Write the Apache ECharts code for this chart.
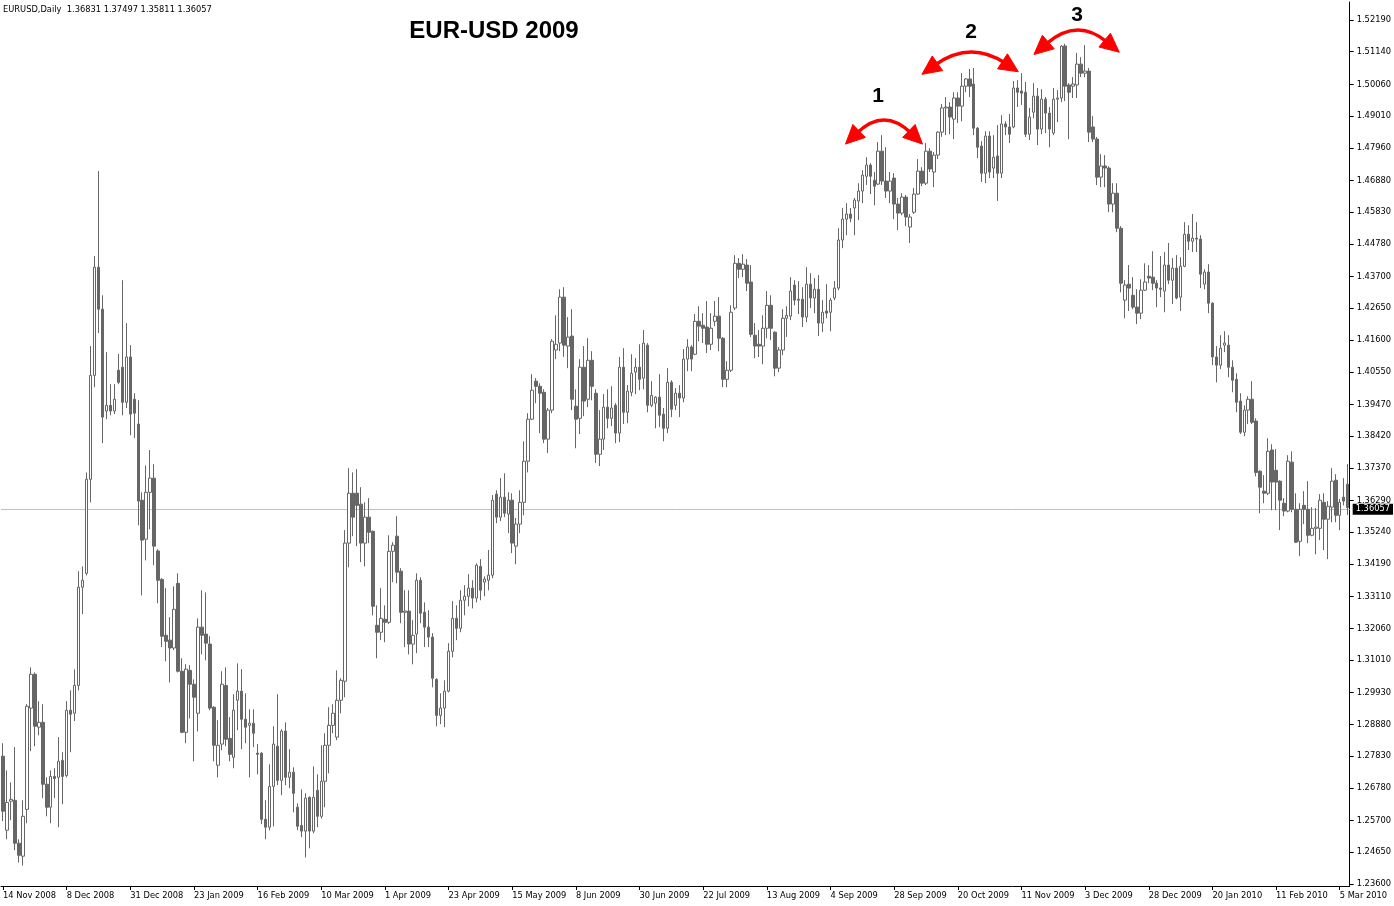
<!DOCTYPE html>
<html><head><meta charset="utf-8">
<script src="https://cdn.jsdelivr.net/npm/echarts@6/dist/echarts.min.js"></script>
<style>html,body{margin:0;padding:0;background:#fff}#c{width:1394px;height:906px}</style>
</head><body><div id="c"></div>
<script>
const symbolName = 'EURUSD,Daily';
const chartTitle = 'EUR-USD 2009';
const xTickLabels = ['14 Nov 2008','8 Dec 2008','31 Dec 2008','23 Jan 2009','16 Feb 2009','10 Mar 2009','1 Apr 2009','23 Apr 2009','15 May 2009','8 Jun 2009','30 Jun 2009','22 Jul 2009','13 Aug 2009','4 Sep 2009','28 Sep 2009','20 Oct 2009','11 Nov 2009','3 Dec 2009','28 Dec 2009','20 Jan 2010','11 Feb 2010','5 Mar 2010'];
const yTickValues = [1.52190,1.51140,1.50060,1.49010,1.47960,1.46880,1.45830,1.44780,1.43700,1.42650,1.41600,1.40550,1.39470,1.38420,1.37370,1.36290,1.35240,1.34190,1.33110,1.32060,1.31010,1.29930,1.28880,1.27830,1.26780,1.25700,1.24650,1.23600];

const open = [
1.2783,1.2538,1.2634,1.2637,1.2495,1.2452,1.2607,1.2942,1.3054,1.2879,1.2895,1.2690,1.2614,1.2716,1.2713,1.2769,1.2719,1.2935,1.2925,1.3017,
1.3342,1.3388,1.3699,1.4043,1.4401,1.4262,1.3925,1.3944,1.3925,1.4060,1.4070,1.3954,1.4104,1.3964,1.3882,1.3630,1.3501,1.3656,1.3703,1.3462,
1.3368,1.3183,1.3167,1.3141,1.3355,1.3064,1.2862,1.3067,1.3021,1.2925,1.3210,1.3187,1.3154,1.2945,1.2753,1.2823,1.3017,1.2842,1.2779,1.2968,
1.2998,1.2905,1.2885,1.2892,1.2793,1.2793,1.2574,1.2548,1.2683,1.2816,1.2703,1.2866,1.2713,1.2730,1.2614,1.2554,1.2535,1.2647,1.2535,1.2670,
1.2584,1.2700,1.2819,1.2885,1.2846,1.2968,1.3031,1.3488,1.3653,1.3653,1.3617,1.3488,1.3574,1.3527,1.3216,1.3193,1.3236,1.3226,1.3461,1.3511,
1.3395,1.3259,1.3263,1.3154,1.3187,1.3365,1.3259,1.3210,1.3177,1.3037,1.2918,1.2942,1.2998,1.3130,1.3239,1.3206,1.3299,1.3312,1.3339,1.3306,
1.3411,1.3359,1.3365,1.3382,1.3650,1.3574,1.3640,1.3584,1.3630,1.3478,1.3551,1.3623,1.3759,1.3898,1.4024,1.4007,1.3987,1.3832,1.3928,1.4127,
1.4150,1.4302,1.4140,1.4173,1.3941,1.3901,1.4070,1.3964,1.4093,1.3984,1.3782,1.3832,1.3938,1.3901,1.3944,1.3852,1.4070,1.3921,1.3987,1.4054,
1.4070,1.4034,1.4143,1.3944,1.3951,1.3971,1.3915,1.3868,1.4020,1.3944,1.3984,1.3968,1.4097,1.4137,1.4113,1.4222,1.4209,1.4203,1.4146,1.4222,
1.4239,1.4166,1.4030,1.4060,1.4266,1.4414,1.4394,1.4408,1.4352,1.4176,1.4146,1.4140,1.4199,1.4275,1.4186,1.4067,1.4127,1.4232,1.4239,1.4342,
1.4295,1.4295,1.4236,1.4345,1.4299,1.4328,1.4216,1.4256,1.4252,1.4299,1.4332,1.4491,1.4560,1.4577,1.4597,1.4620,1.4653,1.4702,1.4739,1.4689,
1.4676,1.4785,1.4686,1.4653,1.4696,1.4610,1.4580,1.4633,1.4534,1.4583,1.4643,1.4719,1.4679,1.4785,1.4716,1.4772,1.4848,1.4928,1.4931,1.4891,
1.4961,1.4934,1.5000,1.5024,1.5007,1.4861,1.4802,1.4712,1.4835,1.4729,1.4769,1.4712,1.4875,1.4865,1.4865,1.4994,1.4984,1.4980,1.4841,1.4914,
1.4967,1.4858,1.4957,1.4911,1.4845,1.4957,1.4961,1.5133,1.5004,1.5000,1.5004,1.5073,1.5043,1.5050,1.4865,1.4825,1.4699,1.4736,1.4729,1.4610,
1.4646,1.4530,1.4292,1.4345,1.4308,1.4269,1.4249,1.4325,1.4371,1.4368,1.4348,1.4332,1.4322,1.4408,1.4358,1.4398,1.4302,1.4404,1.4510,1.4487,
1.4497,1.4494,1.4345,1.4385,1.4282,1.4104,1.4077,1.4143,1.4143,1.4070,1.4030,1.3958,1.3855,1.3928,1.3964,1.3892,1.3726,1.3660,1.3653,1.3796,
1.3729,1.3693,1.3620,1.3594,1.3756,1.3600,1.3494,1.3613,1.3600,1.3514,1.3537,1.3537,1.3623,1.3567,1.3607,1.3696,1.3580,1.3640,1.36831];

const high = [
1.2826,1.2736,1.2696,1.2813,1.2508,1.2637,1.2955,1.3077,1.3060,1.2965,1.2955,1.2713,1.2736,1.2743,1.2846,1.2796,1.2965,1.3001,1.3070,1.3395,
1.3411,1.3722,1.4140,1.4438,1.4719,1.4308,1.4120,1.4014,1.4014,1.4114,1.4358,1.4216,1.4143,1.3984,1.3961,1.3656,1.3745,1.3796,1.3749,1.3468,
1.3372,1.3339,1.3243,1.3345,1.3388,1.3107,1.3087,1.3084,1.3037,1.3239,1.3332,1.3325,1.3180,1.2948,1.2902,1.3064,1.3077,1.2912,1.2988,1.3090,
1.3071,1.2991,1.2938,1.2938,1.2823,1.2796,1.2637,1.2756,1.2882,1.2988,1.2872,1.2895,1.2806,1.2746,1.2627,1.2673,1.2660,1.2650,1.2749,1.2723,
1.2819,1.2859,1.2945,1.2955,1.3067,1.3041,1.3531,1.3736,1.3722,1.3733,1.3673,1.3623,1.3637,1.3530,1.3282,1.3339,1.3282,1.3514,1.3491,1.3577,
1.3405,1.3332,1.3332,1.3233,1.3388,1.3375,1.3292,1.3266,1.3190,1.3041,1.2991,1.3034,1.3157,1.3296,1.3282,1.3332,1.3349,1.3385,1.3365,1.3421,
1.3435,1.3378,1.3465,1.3647,1.3663,1.3703,1.3719,1.3656,1.3653,1.3571,1.3663,1.3825,1.3918,1.4047,1.4034,1.4017,1.3997,1.3935,1.4163,1.4242,
1.4328,1.4335,1.4236,1.4262,1.3997,1.4097,1.4140,1.4166,1.4123,1.3997,1.3928,1.3981,1.3997,1.4007,1.3951,1.4104,1.4133,1.4011,1.4113,1.4100,
1.4146,1.4193,1.4150,1.4024,1.3974,1.4047,1.3935,1.4067,1.4027,1.4001,1.4011,1.4130,1.4163,1.4143,1.4246,1.4272,1.4249,1.4289,1.4249,1.4289,
1.4302,1.4170,1.4090,1.4275,1.4441,1.4431,1.4444,1.4428,1.4408,1.4216,1.4193,1.4242,1.4322,1.4308,1.4189,1.4137,1.4262,1.4272,1.4368,1.4358,
1.4355,1.4335,1.4401,1.4381,1.4365,1.4375,1.4292,1.4345,1.4299,1.4355,1.4530,1.4597,1.4613,1.4597,1.4630,1.4679,1.4722,1.4765,1.4745,1.4716,
1.4815,1.4838,1.4798,1.4716,1.4712,1.4630,1.4646,1.4640,1.4577,1.4663,1.4759,1.4732,1.4812,1.4795,1.4782,1.4851,1.4941,1.4964,1.4947,1.4980,
1.4980,1.5043,1.5027,1.5057,1.5060,1.4865,1.4818,1.4851,1.4851,1.4838,1.4871,1.4904,1.4884,1.4908,1.5017,1.5020,1.5043,1.5014,1.4928,1.5010,
1.4994,1.4990,1.4964,1.4931,1.4994,1.4987,1.5136,1.5140,1.5010,1.5030,1.5110,1.5096,1.5136,1.5060,1.4901,1.4832,1.4775,1.4772,1.4735,1.4679,
1.4679,1.4537,1.4358,1.4408,1.4368,1.4328,1.4361,1.4414,1.4408,1.4454,1.4358,1.4438,1.4451,1.4481,1.4431,1.4441,1.4434,1.4550,1.4540,1.4577,
1.4550,1.4507,1.4394,1.4411,1.4285,1.4140,1.4176,1.4189,1.4176,1.4093,1.4050,1.3984,1.3944,1.3974,1.4024,1.3901,1.3729,1.3713,1.3835,1.3815,
1.3799,1.3696,1.3637,1.3779,1.3792,1.3653,1.3620,1.3660,1.3693,1.3607,1.3604,1.3650,1.3653,1.3627,1.3736,1.3716,1.3634,1.3703,1.37497];

const low = [
1.2568,1.2508,1.2571,1.2472,1.2431,1.2421,1.2561,1.2800,1.2816,1.2852,1.2644,1.2584,1.2561,1.2644,1.2548,1.2624,1.2713,1.2796,1.2899,1.3001,
1.3253,1.3381,1.3623,1.4004,1.4183,1.3819,1.3898,1.3911,1.3915,1.4014,1.3911,1.3935,1.3845,1.3836,1.3547,1.3315,1.3431,1.3534,1.3415,1.3289,
1.3144,1.3097,1.3027,1.3134,1.3060,1.2859,1.2826,1.2908,1.2766,1.2865,1.3120,1.3100,1.2935,1.2766,1.2713,1.2803,1.2816,1.2766,1.2743,1.2869,
1.2806,1.2826,1.2713,1.2813,1.2723,1.2558,1.2508,1.2538,1.2551,1.2687,1.2654,1.2687,1.2677,1.2597,1.2538,1.2515,1.2448,1.2478,1.2528,1.2548,
1.2577,1.2614,1.2726,1.2859,1.2836,1.2925,1.2978,1.3408,1.3511,1.3478,1.3425,1.3411,1.3488,1.3249,1.3107,1.3167,1.3160,1.3220,1.3359,1.3355,
1.3223,1.3144,1.3120,1.3087,1.3124,1.3223,1.3144,1.3144,1.3011,1.2882,1.2889,1.2879,1.2994,1.3110,1.3167,1.3193,1.3249,1.3279,1.3272,1.3292,
1.3299,1.3312,1.3332,1.3372,1.3554,1.3561,1.3574,1.3521,1.3455,1.3418,1.3521,1.3580,1.3722,1.3895,1.3951,1.3852,1.3819,1.3786,1.3918,1.4097,
1.4123,1.4104,1.4067,1.3928,1.3802,1.3849,1.3908,1.3938,1.3961,1.3753,1.3743,1.3796,1.3868,1.3875,1.3819,1.3822,1.3882,1.3885,1.3974,1.3981,
1.3994,1.3997,1.3921,1.3938,1.3868,1.3872,1.3825,1.3852,1.3905,1.3928,1.3905,1.3954,1.4057,1.4057,1.4110,1.4156,1.4150,1.4117,1.4127,1.4206,
1.4123,1.4004,1.4004,1.4054,1.4259,1.4365,1.4368,1.4322,1.4170,1.4100,1.4104,1.4080,1.4166,1.4160,1.4040,1.4054,1.4110,1.4170,1.4226,1.4275,
1.4246,1.4203,1.4219,1.4266,1.4249,1.4173,1.4186,1.4232,1.4189,1.4292,1.4325,1.4464,1.4507,1.4550,1.4507,1.4557,1.4613,1.4673,1.4643,1.4606,
1.4673,1.4673,1.4630,1.4613,1.4560,1.4524,1.4573,1.4537,1.4481,1.4577,1.4640,1.4669,1.4673,1.4716,1.4666,1.4759,1.4832,1.4838,1.4841,1.4825,
1.4878,1.4884,1.4980,1.4964,1.4838,1.4762,1.4683,1.4679,1.4696,1.4696,1.4620,1.4696,1.4838,1.4812,1.4861,1.4931,1.4938,1.4832,1.4822,1.4894,
1.4805,1.4841,1.4845,1.4798,1.4838,1.4881,1.4947,1.4951,1.4825,1.4961,1.4961,1.5030,1.5030,1.4815,1.4815,1.4673,1.4666,1.4666,1.4583,1.4583,
1.4517,1.4318,1.4232,1.4256,1.4262,1.4213,1.4229,1.4322,1.4348,1.4325,1.4269,1.4302,1.4252,1.4345,1.4279,1.4295,1.4256,1.4401,1.4458,1.4451,
1.4451,1.4332,1.4328,1.4249,1.4077,1.4020,1.4064,1.4120,1.4037,1.3987,1.3921,1.3849,1.3842,1.3882,1.3882,1.3709,1.3587,1.3620,1.3647,1.3597,
1.3597,1.3531,1.3577,1.3590,1.3590,1.3488,1.3445,1.3551,1.3488,1.3511,1.3451,1.3498,1.3465,1.3435,1.3557,1.3557,1.3531,1.3613,1.35811];

const close = [
1.2601,1.2630,1.2640,1.2495,1.2455,1.2584,1.2948,1.3054,1.2882,1.2895,1.2690,1.2614,1.2716,1.2709,1.2766,1.2716,1.2935,1.2922,1.3017,1.3342,
1.3365,1.3699,1.4043,1.4401,1.4262,1.3905,1.3944,1.3925,1.3964,1.4020,1.3954,1.4104,1.3915,1.3918,1.3627,1.3498,1.3656,1.3703,1.3478,1.3365,
1.3180,1.3163,1.3141,1.3269,1.3064,1.2862,1.3071,1.3021,1.2978,1.3210,1.3183,1.3157,1.2942,1.2819,1.2819,1.3021,1.2839,1.2789,1.2935,1.2998,
1.2905,1.2879,1.2892,1.2859,1.2789,1.2574,1.2548,1.2683,1.2823,1.2703,1.2866,1.2713,1.2730,1.2660,1.2551,1.2535,1.2644,1.2535,1.2647,1.2584,
1.2700,1.2819,1.2885,1.2925,1.2968,1.3034,1.3488,1.3653,1.3574,1.3613,1.3488,1.3574,1.3524,1.3279,1.3193,1.3239,1.3226,1.3461,1.3481,1.3392,
1.3259,1.3263,1.3154,1.3183,1.3365,1.3256,1.3210,1.3177,1.3041,1.2918,1.2942,1.2998,1.3130,1.3239,1.3206,1.3299,1.3312,1.3339,1.3306,1.3415,
1.3332,1.3369,1.3382,1.3630,1.3574,1.3640,1.3587,1.3630,1.3488,1.3551,1.3623,1.3759,1.3898,1.3994,1.4007,1.3984,1.3832,1.3928,1.4156,1.4146,
1.4302,1.4143,1.4170,1.3964,1.3898,1.4070,1.3958,1.4093,1.4007,1.3782,1.3832,1.3938,1.3901,1.3935,1.3852,1.4070,1.3921,1.3991,1.4050,1.4070,
1.4030,1.4150,1.3944,1.3977,1.3971,1.3911,1.3868,1.4020,1.3931,1.3984,1.3968,1.4097,1.4137,1.4097,1.4222,1.4206,1.4199,1.4146,1.4199,1.4239,
1.4166,1.4030,1.4060,1.4252,1.4414,1.4394,1.4411,1.4348,1.4179,1.4140,1.4140,1.4199,1.4275,1.4199,1.4067,1.4127,1.4232,1.4242,1.4322,1.4292,
1.4292,1.4236,1.4345,1.4299,1.4328,1.4216,1.4252,1.4249,1.4292,1.4332,1.4491,1.4560,1.4577,1.4563,1.4623,1.4653,1.4706,1.4739,1.4702,1.4669,
1.4785,1.4686,1.4653,1.4686,1.4610,1.4580,1.4633,1.4567,1.4567,1.4643,1.4719,1.4679,1.4785,1.4726,1.4772,1.4848,1.4928,1.4931,1.4898,1.4961,
1.4934,1.5000,1.5024,1.5000,1.4861,1.4798,1.4712,1.4835,1.4716,1.4765,1.4712,1.4875,1.4865,1.4841,1.4994,1.4980,1.4977,1.4841,1.4898,1.4967,
1.4858,1.4957,1.4911,1.4858,1.4957,1.4961,1.5133,1.5000,1.4980,1.5007,1.5073,1.5043,1.5050,1.4848,1.4825,1.4699,1.4736,1.4729,1.4610,1.4646,
1.4530,1.4348,1.4342,1.4332,1.4269,1.4249,1.4325,1.4352,1.4365,1.4348,1.4332,1.4328,1.4408,1.4358,1.4398,1.4299,1.4404,1.4510,1.4487,1.4497,
1.4494,1.4378,1.4385,1.4282,1.4104,1.4077,1.4133,1.4150,1.4070,1.4027,1.3954,1.3855,1.3928,1.3964,1.3888,1.3722,1.3673,1.3653,1.3792,1.3690,
1.3690,1.3630,1.3594,1.3759,1.3600,1.3491,1.3600,1.3600,1.3514,1.3537,1.3541,1.3630,1.3567,1.3610,1.3693,1.3580,1.3623,1.3627,1.36057];

const N = close.length;
const last = N - 1;
const lastPrice = close[last];
const categories = close.map((_, i) => String(i));
const candles = close.map((c, i) => [open[i], c, low[i], high[i]]);
const headerText = symbolName + '  ' + open[last].toFixed(5) + ' ' + high[last].toFixed(5) + ' ' + low[last].toFixed(5) + ' ' + close[last].toFixed(5);

const FONT = 'DejaVu Sans';
const SMALL = 8.3;
const RED = '#ff0000';

function curvedArrow(x1, y1, cx, cy, x2, y2) {
  const els = [{
    type: 'bezierCurve', z: 100,
    shape: { x1: x1, y1: y1, x2: x2, y2: y2, cpx1: cx, cpy1: cy },
    style: { stroke: RED, lineWidth: 3.5, fill: null }
  }];
  const head = (px, py) => {
    let dx = px - cx, dy = py - cy;
    const len = Math.hypot(dx, dy); dx /= len; dy /= len;
    const L = 16, W = 18;
    const bx = px - dx * 3, by = py - dy * 3;
    return {
      type: 'polygon', z: 100,
      shape: { points: [[px + dx * L, py + dy * L], [bx - dy * W / 2, by + dx * W / 2], [bx + dy * W / 2, by - dx * W / 2]] },
      style: { fill: RED, stroke: RED, lineWidth: 1 }
    };
  };
  els.push(head(x1, y1), head(x2, y2));
  return els;
}
function bigNumber(t, x, y) {
  return { type: 'text', z: 100, x: x, y: y,
    style: { text: t, fontSize: 21, fontWeight: 'bold', fontFamily: 'Liberation Sans', fill: '#000', align: 'center', verticalAlign: 'middle' } };
}

const chart = echarts.init(document.getElementById('c'), null, { renderer: 'canvas' });
chart.setOption({
  animation: false,
  backgroundColor: '#ffffff',
  grid: { left: -2, top: 2, width: 1354, height: 884, containLabel: false },
  xAxis: {
    type: 'category', data: categories, boundaryGap: true,
    axisLine: { lineStyle: { color: '#000', width: 1 } },
    axisTick: { show: true, interval: 15, alignWithLabel: true, length: 4, lineStyle: { color: '#000' } },
    axisLabel: { interval: 15, align: 'left', margin: 6, fontSize: SMALL, fontFamily: FONT, color: '#000',
      formatter: (v, i) => (xTickLabels[i / 16] || '') },
    splitLine: { show: false }
  },
  yAxis: {
    type: 'value', position: 'right', min: 1.23534, max: 1.52786,
    axisLine: { show: true, lineStyle: { color: '#000', width: 1 } },
    axisTick: { show: true, length: 4, customValues: yTickValues, lineStyle: { color: '#000' } },
    axisLabel: { customValues: yTickValues, formatter: v => v.toFixed(5), fontSize: SMALL, fontFamily: FONT, color: '#000', margin: 7 },
    splitLine: { show: false }
  },
  series: [{
    type: 'candlestick', data: candles, barWidth: 3,
    itemStyle: { color: '#ffffff', color0: '#666666', borderColor: '#666666', borderColor0: '#666666', borderWidth: 1 },
    markLine: {
      silent: true, symbol: 'none', animation: false, z: 1,
      lineStyle: { color: '#c0c0c0', type: 'solid', width: 1 },
      label: { show: true, position: 'end', formatter: lastPrice.toFixed(5), backgroundColor: '#000', color: '#fff',
        fontSize: SMALL, fontFamily: FONT, padding: [2, 3, 1, 3], distance: 3 },
      data: [{ yAxis: lastPrice }]
    }
  }],
  graphic: [
    { type: 'text', x: 3, y: 10, style: { text: headerText, fontSize: SMALL, fontFamily: FONT, fill: '#000', verticalAlign: 'middle' } },
    { type: 'text', x: 494, y: 31, style: { text: chartTitle, fontSize: 24, fontWeight: 'bold', fontFamily: 'Liberation Sans', fill: '#000', align: 'center', verticalAlign: 'middle' } },
    ...curvedArrow(857, 133, 884, 107, 911, 133),
    ...curvedArrow(935, 65, 970, 40, 1005, 63),
    ...curvedArrow(1046, 44, 1077, 17, 1107, 42),
    bigNumber('1', 878, 96),
    bigNumber('2', 971, 32),
    bigNumber('3', 1077, 15)
  ]
});
</script>
</body></html>
